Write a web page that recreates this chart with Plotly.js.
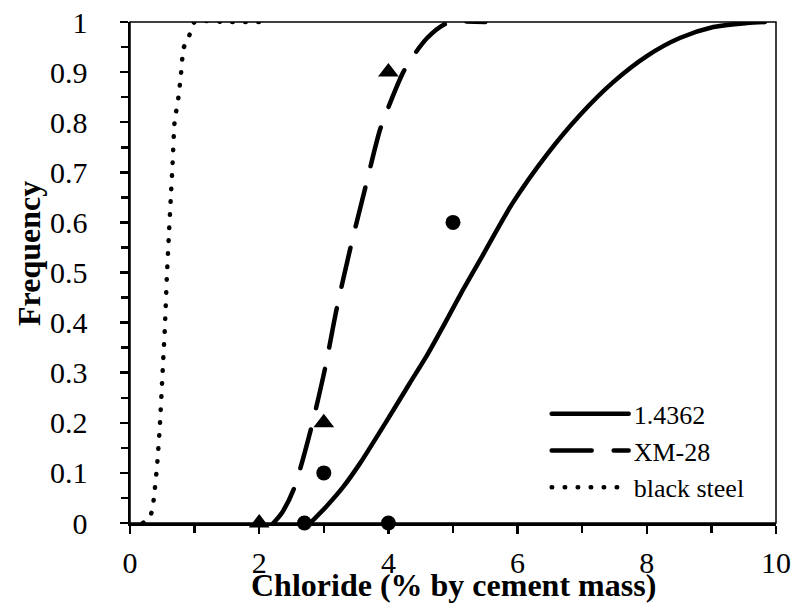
<!DOCTYPE html>
<html>
<head>
<meta charset="utf-8">
<script src="https://cdn.plot.ly/plotly-3.0.1.min.js"></script>
<style>
  html, body { margin: 0; padding: 0; background: #fff; }
  #chart { width: 794px; height: 603px; }
  .js-line { stroke-linecap: round; }
</style>
</head>
<body>
<div id="chart"></div>
<script>
// ---- Data ----
// Fitted curves
const curve14362X = [2.79, 3.04, 3.30, 3.56, 3.82, 4.08, 4.33, 4.59, 4.85, 5.11, 5.42, 5.93, 6.45, 6.97, 7.48, 8.0, 8.51, 9.03, 9.55, 9.83];
const curve14362Y = [0, 0.033, 0.072, 0.119, 0.172, 0.226, 0.279, 0.333, 0.393, 0.455, 0.525, 0.64, 0.735, 0.815, 0.88, 0.932, 0.968, 0.99, 0.998, 1.0];

const curveXM28X = [2.22, 2.35, 2.53, 2.79, 3.02, 3.20, 3.41, 3.64, 3.87, 4.0, 4.23, 4.4, 4.6, 4.85, 5.0, 5.5];
const curveXM28Y = [0, 0.02, 0.066, 0.182, 0.309, 0.428, 0.548, 0.668, 0.785, 0.83, 0.90, 0.935, 0.968, 0.994, 1.0, 1.0];

const curveBlackX = [0.2, 0.32, 0.36, 0.42, 0.46, 0.51, 0.54, 0.57, 0.60, 0.63, 0.66, 0.69, 0.75, 0.79, 0.83, 0.91, 1.0, 1.5, 2.0];
const curveBlackY = [0, 0.016, 0.04, 0.116, 0.19, 0.315, 0.39, 0.49, 0.57, 0.645, 0.72, 0.80, 0.85, 0.897, 0.948, 0.97, 1.0, 1.0, 1.0];

// Measured points
const pts14362X = [2.7, 3, 4, 5];
const pts14362Y = [0, 0.1, 0, 0.6];
const ptsXM28X = [2, 3, 4];
const ptsXM28Y = [0, 0.2, 0.9];

// Labels
const seriesNames = ['1.4362', 'XM-28', 'black steel'];
const xTitle = 'Chloride (% by cement mass)';
const yTitle = 'Frequency';

const FONT = '"Liberation Serif", "Times New Roman", Times, serif';
const LW = 4.5;

const traces = [
  { x: curve14362X, y: curve14362Y, mode: 'lines', name: seriesNames[0],
    line: { color: '#000', width: LW, shape: 'spline', smoothing: 0.8 }, cliponaxis: false, legendgroup: 'a' },
  { x: curveXM28X, y: curveXM28Y, mode: 'lines', name: seriesNames[1],
    line: { color: '#000', width: LW, dash: '40px,22px', shape: 'spline', smoothing: 0.8 }, cliponaxis: false, legendgroup: 'b' },
  { x: curveBlackX, y: curveBlackY, mode: 'lines', name: seriesNames[2],
    line: { color: '#000', width: LW, dash: '0.5px,12.5px', shape: 'spline', smoothing: 0.6 }, cliponaxis: false, legendgroup: 'c' },
  { x: pts14362X, y: pts14362Y, mode: 'markers', showlegend: false,
    marker: { symbol: 'circle', size: 15, color: '#000' }, cliponaxis: false },
  { x: ptsXM28X, y: ptsXM28Y, mode: 'markers', showlegend: false,
    marker: { symbol: 'triangle-up', size: 18, color: '#000' }, cliponaxis: false }
];

const layout = {
  width: 794, height: 603,
  margin: { l: 130, r: 18, t: 22, b: 80, pad: 0 },
  paper_bgcolor: '#fff', plot_bgcolor: '#fff',
  font: { family: FONT, color: '#000', size: 30 },
  showlegend: true,
  legend: {
    x: 0.645, y: 0.265, xanchor: 'left', yanchor: 'top',
    bgcolor: 'rgba(0,0,0,0)', borderwidth: 0,
    font: { family: FONT, size: 26, color: '#000' },
    itemwidth: 77, tracegroupgap: 3, traceorder: 'normal'
  },
  xaxis: {
    range: [0, 10], dtick: 2, tick0: 0,
    showline: true, linecolor: '#000', linewidth: 2.5,
    ticks: 'outside', ticklen: 8, tickwidth: 2.5, tickcolor: '#000',
    minor: { dtick: 1, ticks: 'outside', ticklen: 7, tickwidth: 2.5, tickcolor: '#000' },
    showgrid: false, zeroline: false,
    tickfont: { family: FONT, size: 30, color: '#000' },
    ticklabelstandoff: 3
  },
  yaxis: {
    range: [0, 1], dtick: 0.1, tick0: 0,
    showline: true, linecolor: '#000', linewidth: 2.5,
    ticks: 'outside', ticklen: 8, tickwidth: 2.5, tickcolor: '#000',
    minor: { dtick: 0.05, ticks: 'outside', ticklen: 7, tickwidth: 2.5, tickcolor: '#000' },
    showgrid: false, zeroline: false,
    tickfont: { family: FONT, size: 30, color: '#000' },
    ticklabelstandoff: 26
  },
  shapes: [
    { type: 'rect', xref: 'paper', yref: 'paper', x0: 0, x1: 1, y0: 0, y1: 1,
      line: { color: '#000', width: 1.5 }, fillcolor: 'rgba(0,0,0,0)', layer: 'below' }
  ],
  annotations: [
    { text: '<b>' + xTitle + '</b>', xref: 'paper', yref: 'paper', x: 0.5015, y: -0.124,
      xanchor: 'center', yanchor: 'middle', showarrow: false,
      font: { family: FONT, size: 32, color: '#000' } },
    { text: '<b>' + yTitle + '</b>', xref: 'paper', yref: 'paper', x: -0.1556, y: 0.538,
      xanchor: 'center', yanchor: 'middle', showarrow: false, textangle: -90,
      font: { family: FONT, size: 32, color: '#000' } }
  ]
};

Plotly.newPlot('chart', traces, layout, { displayModeBar: false, staticPlot: true });
</script>
</body>
</html>
